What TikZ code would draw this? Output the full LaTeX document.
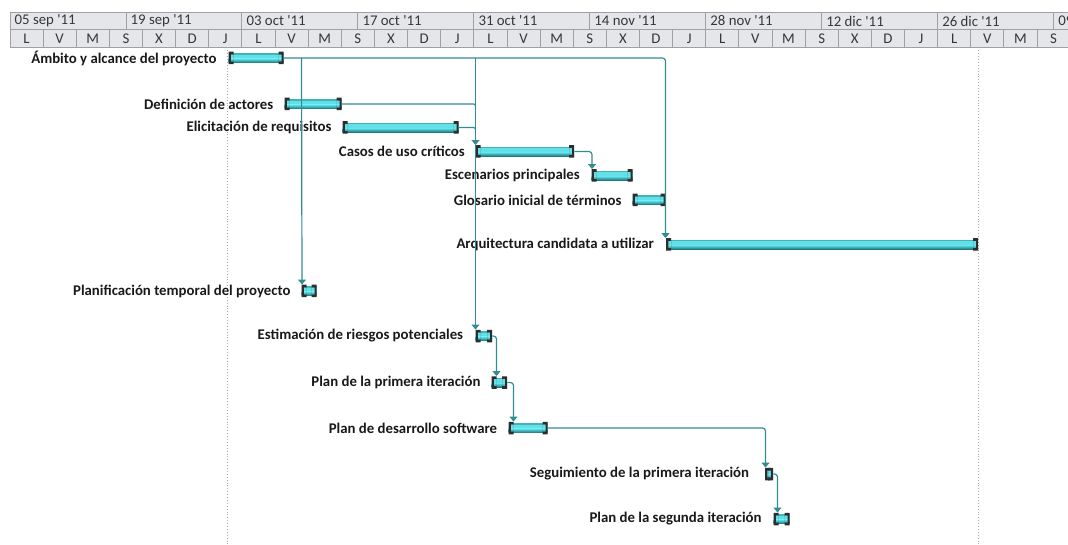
\documentclass[tikz,border=0pt]{standalone}
\usepackage{fontspec}
\setmainfont{Carlito}[Ligatures=TeXOff]
\usetikzlibrary{arrows.meta}

\definecolor{hdrfill}{RGB}{229,230,233}
\definecolor{hdrline}{RGB}{160,160,163}
\definecolor{hdrtext}{RGB}{55,55,58}
\definecolor{linkteal}{RGB}{50,140,146}
\definecolor{barTop}{RGB}{62,180,188}
\definecolor{barMid}{RGB}{98,224,230}
\definecolor{barBot}{RGB}{26,118,126}
\definecolor{capdark}{RGB}{45,45,47}
\definecolor{gridgray}{RGB}{170,170,170}

\tikzset{
  hdrcell/.style={draw=hdrline, fill=hdrfill, line width=0.9pt},
  hdrtop/.style={anchor=west, inner sep=0pt, text=hdrtext, font=\fontsize{14.8}{16}\selectfont},
  hdrday/.style={anchor=center, inner sep=0pt, text=hdrtext, font=\fontsize{14.8}{16}\selectfont},
  tasklabel/.style={anchor=east, inner sep=0pt, text=black!90, font=\fontsize{14.8}{16}\selectfont\bfseries},
  datemark/.style={gridgray, dotted, line width=0.9pt},
  link/.style={linkteal, line width=1.2pt, -{Triangle[length=5pt,width=8pt]}},
  plainlink/.style={linkteal, line width=1.2pt},
  taskbar/.style={rectangle, inner sep=0pt, minimum height=12.5pt, anchor=west,
    path picture={
      \fill[barMid]
        ([yshift=-1.6pt]path picture bounding box.north west)
        rectangle ([yshift=1.6pt]path picture bounding box.south east);
      \fill[barTop]
        ([yshift=-1.6pt]path picture bounding box.north west)
        rectangle ([yshift=-3pt]path picture bounding box.north east);
      \shade[top color=barMid, bottom color=barBot]
        ([yshift=5.5pt]path picture bounding box.south west)
        rectangle ([yshift=1.6pt]path picture bounding box.south east);
      \fill[capdark, even odd rule]
        (path picture bounding box.north west)
          rectangle ([xshift=5pt]path picture bounding box.south west)
        ([xshift=2.2pt,yshift=-2.6pt]path picture bounding box.north west)
          rectangle ([xshift=5pt,yshift=2.6pt]path picture bounding box.south west);
      \fill[capdark, even odd rule]
        (path picture bounding box.north east)
          rectangle ([xshift=-5pt]path picture bounding box.south east)
        ([xshift=-2.2pt,yshift=-2.6pt]path picture bounding box.north east)
          rectangle ([xshift=-5pt,yshift=2.6pt]path picture bounding box.south east);
    }},
}

\begin{document}
\begin{tikzpicture}[x=1pt, y=-1pt]
\useasboundingbox (0,0) rectangle (1068,545);

% timescale header: two-week periods and four-day ticks
\begin{scope}
  \clip (0,0) rectangle (1068,545);
  \foreach \lab [count=\i from 0] in {05 sep '11,19 sep '11,03 oct '11,17 oct '11,31 oct '11,14 nov '11,28 nov '11,12 dic '11,26 dic '11,09 ene '12}{
    \draw[hdrcell] ({10+115.95*\i},12) rectangle ({10+115.95*(\i+1)},29.5);
    \node[hdrtop] (wk\i) at ({14.5+115.95*\i},21) {\lab};
  }
  \foreach \d [count=\i from 0] in {L,V,M,S,X,D,J,L,V,M,S,X,D,J,L,V,M,S,X,D,J,L,V,M,S,X,D,J,L,V,M,S}{
    \draw[hdrcell] ({10+33.13*\i},29.5) rectangle ({10+33.13*(\i+1)},47);
    \node[hdrday] (dy\i) at ({10+33.13*(\i+0.5)},38.5) {\d};
  }
\end{scope}

% date markers
\draw[datemark] (227.5,47.5) -- (227.5,545);
\draw[datemark] (978.5,47.5) -- (978.5,545);

% task bars
\node[taskbar, minimum width=55pt]  (t1)  at (228.5,58)  {};
\node[taskbar, minimum width=57pt]  (t2)  at (284.5,104) {};
\node[taskbar, minimum width=116pt] (t3)  at (342.5,127.5) {};
\node[taskbar, minimum width=98.5pt] (t4) at (475.5,151.5) {};
\node[taskbar, minimum width=16.5pt] (t9) at (475.5,336) {};
\node[taskbar, minimum width=41pt]  (t5)  at (591.5,175.5) {};
\node[taskbar, minimum width=33pt]  (t6)  at (632.5,200) {};
\node[taskbar, minimum width=312pt] (t7)  at (666,244.5) {};
\node[taskbar, minimum width=15pt]  (t8)  at (301.5,291) {};
\node[taskbar, minimum width=15.5pt] (t10) at (491.5,382.5) {};
\node[taskbar, minimum width=39pt]  (t11) at (508.5,428) {};
\node[taskbar, minimum width=8pt]   (t12) at (765,474) {};
\node[taskbar, minimum width=16pt]  (t13) at (773.5,519) {};

% task names
\node[tasklabel] (n1)  at (216.7,58)  {Ámbito y alcance del proyecto};
\node[tasklabel] (n2)  at (273.5,104) {Definición de actores};
\node[tasklabel] (n3)  at (331.7,127.5) {Elicitación de requisitos};
\node[tasklabel] (n4)  at (465,151.5) {Casos de uso críticos};
\node[tasklabel] (n5)  at (580,175.5) {Escenarios principales};
\node[tasklabel] (n6)  at (621.7,200) {Glosario inicial de términos};
\node[tasklabel] (n7)  at (654,244.5) {Arquitectura candidata a utilizar};
\node[tasklabel] (n8)  at (290.7,291) {Planificación temporal del proyecto};
\node[tasklabel] (n9)  at (463.3,336) {Estimación de riesgos potenciales};
\node[tasklabel] (n10) at (480.7,382.5) {Plan de la primera iteración};
\node[tasklabel] (n11) at (497.3,428) {Plan de desarrollo software};
\node[tasklabel] (n12) at (749.3,474) {Seguimiento de la primera iteración};
\node[tasklabel] (n13) at (761.7,519) {Plan de la segunda iteración};

% dependency links
\draw[link, rounded corners=3pt] (t1.east) -| ([xshift=-0.5pt]t7.north west);
\draw[link] (t1.east -| t8.north west) -- ([xshift=0.5pt]t8.north west);
\draw[link] (t1.east -| t4.north west) -- (t4.north west);
\draw[link] (t4.north west) -- (t9.north west);
\draw[plainlink, rounded corners=2pt] (t2.east) -- (t2.east -| t4.north west) -- ++(0,3);
\draw[plainlink, rounded corners=2pt] (t3.east) -- (t3.east -| t4.north west) -- ++(0,3);
\draw[link, rounded corners=3pt] (t4.east) -| ([xshift=0.5pt]t5.north west);
\draw[link, rounded corners=3pt] (t9.east) -| ([xshift=5pt]t10.north west);
\draw[link, rounded corners=3pt] (t10.east) -| ([xshift=5pt]t11.north west);
\draw[link, rounded corners=3pt] (t11.east) -| ([xshift=0.5pt]t12.north west);
\draw[link, rounded corners=3pt] (t12.east) -| ([xshift=4pt]t13.north west);

\end{tikzpicture}
\end{document}
